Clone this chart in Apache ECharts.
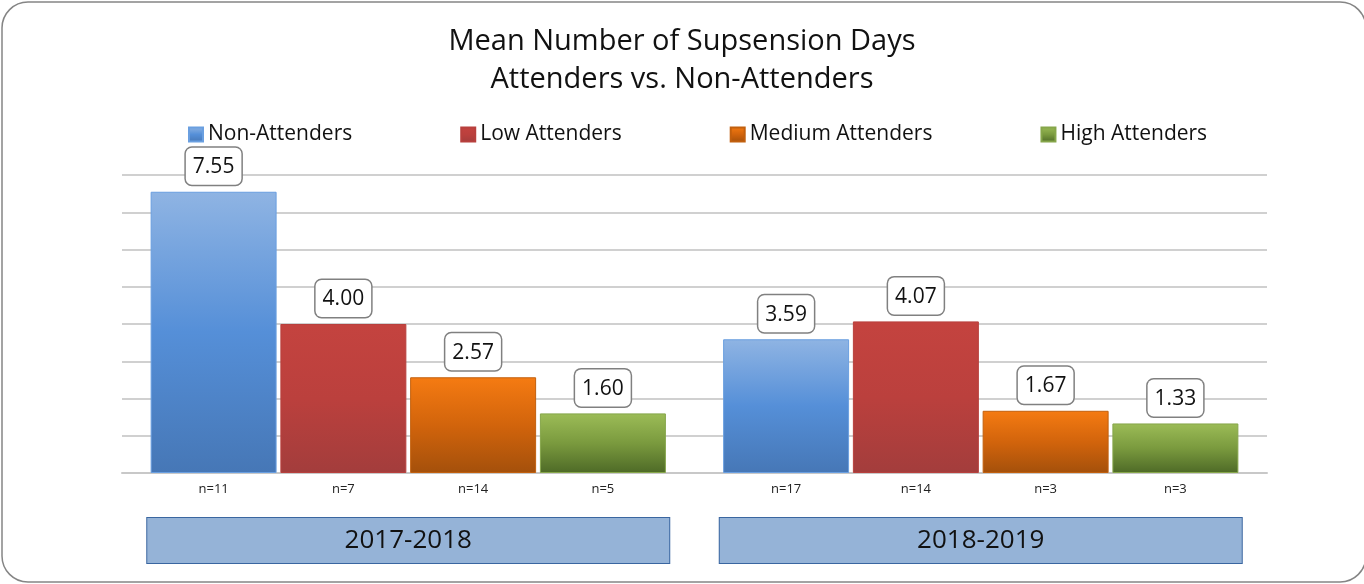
<!DOCTYPE html>
<html>
<head>
<meta charset="utf-8">
<script src="https://cdn.jsdelivr.net/npm/echarts@6/dist/echarts.min.js"></script>
<style>
  html, body { margin: 0; padding: 0; background: #ffffff; }
  #chart { width: 1364px; height: 584px; }
</style>
</head>
<body>
<div id="chart"></div>
<script>
  const years = ['2017-2018', '2018-2019']
  const groups = ['Non-Attenders', 'Low Attenders', 'Medium Attenders', 'High Attenders']
  const nonAttenders = [7.55, 3.59]
  const lowAttenders = [4.00, 4.07]
  const mediumAttenders = [2.57, 1.67]
  const highAttenders = [1.60, 1.33]
  const nNon = ['n=11', 'n=17']
  const nLow = ['n=7', 'n=14']
  const nMedium = ['n=14', 'n=3']
  const nHigh = ['n=5', 'n=3']

  const values = [nonAttenders, lowAttenders, mediumAttenders, highAttenders]
  const counts = [nNon, nLow, nMedium, nHigh]

  const FONT = 'Open Sans'

  function grad(top, mid, bottom) {
    return new echarts.graphic.LinearGradient(0, 0, 0, 1, [
      { offset: 0, color: top },
      { offset: 0.5, color: mid },
      { offset: 1, color: bottom }
    ])
  }

  const fills = [
    grad('#8fb4e3', '#558fd8', '#4677b6'),
    grad('#c4433f', '#bb403d', '#a33d3c'),
    grad('#f57b12', '#d2640c', '#a4500b'),
    grad('#9cbc57', '#7a9a3e', '#4e6a27')
  ]
  const borders = ['#6a9fe0', '#b8403d', '#c2600e', '#86a64a']

  const series = []
  groups.forEach((name, i) => {
    // zero-height bar at the baseline, only to carry the n= label under each bar
    series.push({
      name: 'n-' + i,
      type: 'bar',
      stack: 's' + i,
      data: values[i].map(() => 0),
      itemStyle: { color: 'transparent' },
      barGap: '3%',
      barCategoryGap: '10%',
      silent: true,
      label: {
        show: true,
        position: 'bottom',
        distance: 10,
        fontFamily: FONT,
        fontSize: 13,
        color: '#222222',
        formatter: (p) => counts[i][p.dataIndex]
      }
    })
    series.push({
      name: name,
      type: 'bar',
      stack: 's' + i,
      data: values[i],
      barGap: '3%',
      barCategoryGap: '10%',
      itemStyle: { color: fills[i], borderColor: borders[i], borderWidth: 1 },
      label: {
        show: true,
        position: 'top',
        distance: 7,
        fontFamily: FONT,
        fontSize: 21,
        color: '#111111',
        backgroundColor: '#ffffff',
        borderColor: '#808080',
        borderWidth: 1.5,
        borderRadius: 6,
        padding: [9, 7, 7, 7],
        formatter: (p) => p.value.toFixed(2)
      }
    })
  })

  const chart = echarts.init(document.getElementById('chart'))
  chart.setOption({
    animation: false,
    graphic: [
      {
        type: 'rect',
        shape: { x: 2, y: 2, width: 1364, height: 580, r: 26 },
        style: { fill: 'none', stroke: '#858585', lineWidth: 1.5 },
        silent: true,
        z: -10
      }
    ],
    title: {
      text: 'Mean Number of Supsension Days\nAttenders vs. Non-Attenders',
      left: 'center',
      top: 18,
      textStyle: {
        fontFamily: FONT,
        fontSize: 29,
        fontWeight: 'normal',
        color: '#111111',
        lineHeight: 38
      }
    },
    legend: {
      data: groups,
      top: 119,
      left: 183,
      itemWidth: 14,
      itemHeight: 14,
      itemGap: 108,
      icon: 'rect',
      textStyle: { fontFamily: FONT, fontSize: 21, color: '#111111', padding: [0, 0, 0, 0] }
    },
    grid: { left: 122, right: 97, top: 175, bottom: 111 },
    xAxis: {
      type: 'category',
      data: years,
      axisTick: { show: false },
      axisLine: { lineStyle: { color: '#c8c8c8', width: 2 } },
      axisLabel: {
        margin: 45,
        fontFamily: FONT,
        fontSize: 26,
        color: '#111111',
        backgroundColor: '#95b3d7',
        borderColor: '#3a66a0',
        borderWidth: 1,
        width: 522,
        height: 45,
        lineHeight: 45,
        align: 'center'
      }
    },
    yAxis: {
      type: 'value',
      min: 0,
      max: 8,
      interval: 1,
      axisLabel: { show: false },
      axisLine: { show: false },
      axisTick: { show: false },
      splitLine: { lineStyle: { color: '#d0d0d0', width: 2 } }
    },
    series: series
  })
</script>
</body>
</html>
